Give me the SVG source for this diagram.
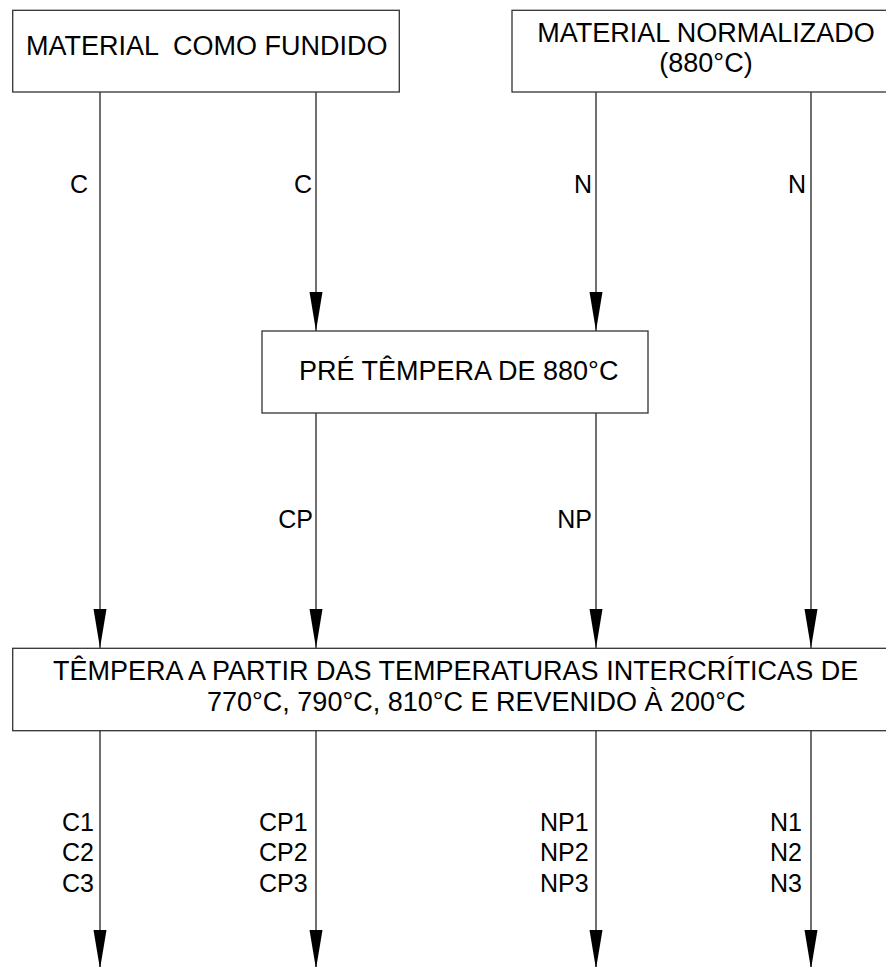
<svg xmlns="http://www.w3.org/2000/svg" width="886" height="967" viewBox="0 0 886 967">
<style>
.box{fill:#fff;stroke:#333;stroke-width:1.3}
.t{font-family:"Liberation Sans",Arial,sans-serif;font-size:27px;fill:#000}
.l{font-family:"Liberation Sans",Arial,sans-serif;font-size:25px;fill:#000}
.e{text-anchor:end}
.m{text-anchor:middle}
.c line{stroke:#222;stroke-width:1.3}
.c polygon{fill:#000}
</style>
<g id="connectors" class="c">
<line x1="100" y1="92" x2="100" y2="648"/>
<line x1="316" y1="92" x2="316" y2="331"/>
<line x1="596" y1="92" x2="596" y2="331"/>
<line x1="811" y1="92" x2="811" y2="648"/>
<line x1="316" y1="413" x2="316" y2="648"/>
<line x1="596" y1="413" x2="596" y2="648"/>
<line x1="100" y1="731" x2="100" y2="967"/>
<line x1="316" y1="731" x2="316" y2="967"/>
<line x1="596" y1="731" x2="596" y2="967"/>
<line x1="811" y1="731" x2="811" y2="967"/>
<polygon points="309.5,292 322.5,292 316,331"/>
<polygon points="589.5,292 602.5,292 596,331"/>
<polygon points="93.5,609 106.5,609 100,648"/>
<polygon points="309.5,609 322.5,609 316,648"/>
<polygon points="589.5,609 602.5,609 596,648"/>
<polygon points="804.5,609 817.5,609 811,648"/>
<polygon points="93.5,930 106.5,930 100,969"/>
<polygon points="309.5,930 322.5,930 316,969"/>
<polygon points="589.5,930 602.5,930 596,969"/>
<polygon points="804.5,930 817.5,930 811,969"/>
<text class="l e" x="88" y="193">C</text>
<text class="l e" x="312" y="193">C</text>
<text class="l e" x="592" y="193">N</text>
<text class="l e" x="806" y="193">N</text>
<text class="l e" x="313" y="528">CP</text>
<text class="l e" x="592" y="528">NP</text>
<text class="l" x="62" y="831">C1</text>
<text class="l" x="62" y="861">C2</text>
<text class="l" x="62" y="892">C3</text>
<text class="l" x="259" y="831">CP1</text>
<text class="l" x="259" y="861">CP2</text>
<text class="l" x="259" y="892">CP3</text>
<text class="l" x="540" y="831">NP1</text>
<text class="l" x="540" y="861">NP2</text>
<text class="l" x="540" y="892">NP3</text>
<text class="l" x="770" y="831">N1</text>
<text class="l" x="770" y="861">N2</text>
<text class="l" x="770" y="892">N3</text>
</g>
<g id="fundido">
<rect class="box" x="12.7" y="10.3" width="386.6" height="81.7"/>
<text class="t" x="26" y="55" xml:space="preserve">MATERIAL  COMO FUNDIDO</text>
</g>
<g id="normalizado">
<rect class="box" x="512" y="10.3" width="380" height="81.7"/>
<text class="t m" x="706" y="42">MATERIAL NORMALIZADO</text>
<text class="t m" x="706" y="72">(880°C)</text>
</g>
<g id="pretempera">
<rect class="box" x="262" y="331" width="386" height="82"/>
<text class="t" x="299" y="380">PRÉ TÊMPERA DE 880°C</text>
</g>
<g id="tempera">
<rect class="box" x="12.7" y="648.3" width="880" height="82.4"/>
<text class="t" x="53" y="680">TÊMPERA A PARTIR DAS TEMPERATURAS INTERCRÍTICAS DE</text>
<text class="t" x="207" y="711">770°C, 790°C, 810°C E REVENIDO À 200°C</text>
</g>
</svg>
